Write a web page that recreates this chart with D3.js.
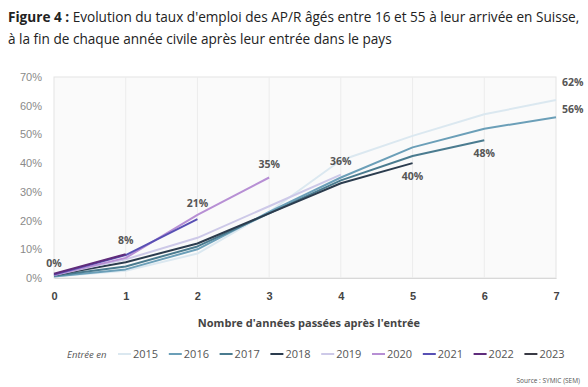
<!DOCTYPE html>
<html>
<head>
<meta charset="utf-8">
<script src="https://cdn.jsdelivr.net/npm/d3@7"></script>
<style>
  body { margin: 0; background: #fff; }
  svg { display: block; font-family: "Open Sans", "Noto Sans", sans-serif; }
</style>
</head>
<body>
<div id="chart"></div>
<script>
const W = 588, H = 387;

const years = [0, 1, 2, 3, 4, 5, 6, 7];
const yTicks = [0, 10, 20, 30, 40, 50, 60, 70];
const cohorts = ["2015", "2016", "2017", "2018", "2019", "2020", "2021", "2022", "2023"];
const colors = ["#dbe8f0", "#6b9fb8", "#4a7b8f", "#2b3c4e", "#cdc9e8", "#b78fd4", "#5850b4", "#5f2c7b", "#393a44"];

// employment rate (%) per year after entry
const rate2015 = [0.5, 2.5, 8.5, 23, 41, 49.5, 57, 62];
const rate2016 = [0.5, 3, 10, 23, 35, 45.5, 52, 56];
const rate2017 = [0.8, 4, 11, 22.5, 34, 42.5, 48];
const rate2018 = [1, 5.5, 12, 22.5, 33, 40];
const rate2019 = [1, 6.5, 14, 25, 36];
const rate2020 = [1, 7, 22, 35];
const rate2021 = [1.2, 8, 20.5];
const rate2022 = [1.5, 8.3];
const rate2023 = [0.4];
const rates = [rate2015, rate2016, rate2017, rate2018, rate2019, rate2020, rate2021, rate2022, rate2023];

// end labels: text and where to put it relative to the last point
const labelText = ["62%", "56%", "48%", "40%", "36%", "35%", "21%", "8%", "0%"];
const labelPos = ["right", "right", "below", "below", "above", "above", "above2", "above", "above"];

const margin = {top: 77, left: 54, right: 32, bottom: 109};

const svg = d3.select("#chart").append("svg")
    .attr("width", W)
    .attr("height", H);

// title
const title = svg.append("text").attr("x", 8).attr("y", 22)
    .style("font-size", "13.6px").attr("fill", "#222");
title.append("tspan").style("font-weight", "bold").text("Figure 4 : ");
title.append("tspan").text("Evolution du taux d'emploi des AP/R âgés entre 16 et 55 à leur arrivée en Suisse,");
svg.append("text").attr("x", 8).attr("y", 44)
    .style("font-size", "13.6px").attr("fill", "#222")
    .text("à la fin de chaque année civile après leur entrée dans le pays");

const x = d3.scaleLinear().domain([0, 7]).range([margin.left, W - margin.right]);
const y = d3.scaleLinear().domain([0, 70]).range([H - margin.bottom, margin.top]);

// plot background
svg.append("rect")
    .attr("x", x(0)).attr("y", y(70))
    .attr("width", x(7) - x(0)).attr("height", y(0) - y(70))
    .attr("fill", "#fafafa").attr("stroke", "#e4e4e4").attr("stroke-width", 1);

// vertical grid
svg.append("g").selectAll("line").data(years.slice(1, 7)).join("line")
    .attr("x1", d => x(d)).attr("x2", d => x(d))
    .attr("y1", y(70)).attr("y2", y(0))
    .attr("stroke", "#ececec");

// x axis
const xAxis = svg.append("g")
    .attr("transform", `translate(0,${y(0)})`)
    .call(d3.axisBottom(x).tickValues(years).tickFormat(d3.format("d")).tickSize(0).tickPadding(14));
xAxis.select(".domain").attr("stroke", "#d8d8d8");
xAxis.selectAll("text").style("font-size", "11px").style("font-weight", "bold").attr("fill", "#444");

// y axis
const yAxis = svg.append("g")
    .attr("transform", `translate(${x(0)},0)`)
    .call(d3.axisLeft(y).tickValues(yTicks).tickFormat(d => d + "%").tickSize(0).tickPadding(12));
yAxis.select(".domain").remove();
yAxis.selectAll("text").style("font-size", "11px").attr("fill", "#8a8a8a");

// axis title
svg.append("text")
    .attr("x", (x(0) + x(7)) / 2 + 4).attr("y", 327)
    .attr("text-anchor", "middle")
    .style("font-size", "11px").style("font-weight", "bold").attr("fill", "#444")
    .text("Nombre d'années passées après l'entrée");

// lines
const line = d3.line().x((d, i) => x(i)).y(d => y(d));
svg.append("g").selectAll("path").data(rates).join("path")
    .attr("d", d => line(d))
    .attr("fill", "none")
    .attr("stroke", (d, i) => colors[i])
    .attr("stroke-width", 2)
    .attr("stroke-linejoin", "round");

// end labels
const labels = svg.append("g").style("font-size", "10.5px").style("font-weight", "bold").attr("fill", "#555");
rates.forEach((r, i) => {
    const xi = r.length - 1;
    let px = x(xi), py = y(r[xi]), anchor = "middle";
    const pos = labelPos[i];
    if (pos === "right") { px += 6; py -= 4; anchor = "start"; if (i === 0) py -= 10; }
    else if (pos === "below") { py += 17; }
    else if (pos === "above") { py -= 10; }
    else if (pos === "above2") { py = y(rate2020[2]) - 8; }
    labels.append("text").attr("x", px).attr("y", py).attr("text-anchor", anchor).text(labelText[i]);
});

// legend
const legend = svg.append("g").attr("transform", "translate(0,358)");
legend.append("text").attr("x", 67).attr("y", 0)
    .style("font-size", "9.5px").style("font-style", "italic").attr("fill", "#555")
    .text("Entrée en");
cohorts.forEach((c, i) => {
    const gx = 118 + i * 50.8;
    legend.append("line")
        .attr("x1", gx).attr("x2", gx + 13).attr("y1", -4).attr("y2", -4)
        .attr("stroke", colors[i]).attr("stroke-width", 2);
    legend.append("text").attr("x", gx + 15).attr("y", 0)
        .style("font-size", "11px").attr("fill", "#555").text(c);
});

// source
svg.append("text").attr("x", 580).attr("y", 383).attr("text-anchor", "end")
    .style("font-size", "6.5px").attr("fill", "#555")
    .text("Source : SYMIC (SEM)");
</script>
</body>
</html>
